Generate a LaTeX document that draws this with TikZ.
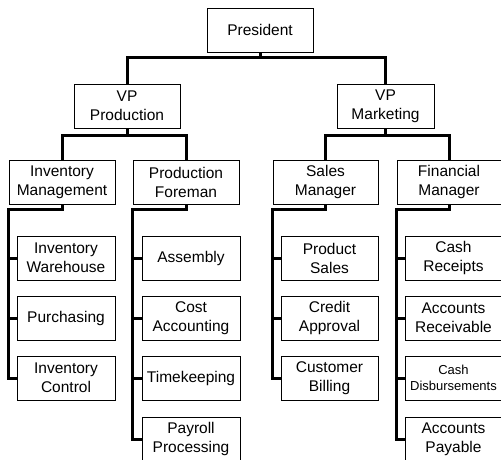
\documentclass[tikz,border=0pt]{standalone}
\usepackage{fontspec}
\setmainfont{Liberation Sans}
\tikzset{
    unit/.style={draw, line width=0.8pt, minimum height=44pt, inner sep=1pt, align=center, font=\fontsize{15.5}{19}\selectfont},
    link/.style={line width=3pt},
}
\begin{document}
\begin{tikzpicture}[x=1pt, y=-1pt]
        \useasboundingbox (0,0) rectangle (501,460);
        \node[unit, minimum width=106pt] (pres) at (260,30) {President};
        \node[unit, minimum width=106pt] (vpp) at (127,106) {VP\\Production};
        \node[unit, minimum width=97pt] (vpm) at (385.5,106) {VP\\Marketing};
        \node[unit, minimum width=106pt] (invm) at (62,182) {Inventory\\Management};
        \node[unit, minimum width=106pt] (pfor) at (186,182) {Production\\Foreman};
        \node[unit, minimum width=105pt] (salm) at (325.5,182) {Sales\\Manager};
        \node[unit, minimum width=104pt] (finm) at (449,182) {Financial\\Manager};
        \node[unit, minimum width=98pt] (invw) at (66,258) {Inventory\\Warehouse};
        \node[unit, minimum width=98pt] (purc) at (66,318) {Purchasing};
        \node[unit, minimum width=98pt] (invc) at (66,378) {Inventory\\Control};
        \node[unit, minimum width=98pt] (asmb) at (191,258) {Assembly};
        \node[unit, minimum width=98pt] (cost) at (191,318) {Cost\\Accounting};
        \node[unit, minimum width=98pt] (time) at (191,378) {Timekeeping};
        \node[unit, minimum width=98pt] (payr) at (191,439) {Payroll\\Processing};
        \node[unit, minimum width=97pt] (prod) at (329.5,258) {Product\\Sales};
        \node[unit, minimum width=97pt] (cred) at (329.5,318) {Credit\\Approval};
        \node[unit, minimum width=97pt] (cust) at (329.5,378) {Customer\\Billing};
        \node[unit, minimum width=97pt] (rcpt) at (453.5,258) {Cash\\Receipts};
        \node[unit, minimum width=97pt] (arec) at (453.5,318) {Accounts\\Receivable};
        \node[unit, minimum width=97pt, font=\fontsize{13}{16}\selectfont] (disb) at (453.5,378) {Cash\\Disbursements};
        \node[unit, minimum width=97pt] (apay) at (453.5,439) {Accounts\\Payable};

        \draw[link] (pres.south) -- ++(0,5) coordinate (jtop);
        \draw[link] (vpp.north) |- (jtop) -| (vpm.north);
        \draw[link] (vpp.south) -- ++(0,7) coordinate (jprod);
        \draw[link] (invm.north) |- (jprod) -| (pfor.north);
        \draw[link] (vpm.south) -- ++(0,7) coordinate (jmark);
        \draw[link] (salm.north) |- (jmark) -| (finm.north);

        \draw[link] (invm.south) -- ++(0,5) -| (invm.west |- invc.west) -- (invc.west);
        \draw[link] (pfor.south) -- ++(0,5) -| (pfor.west |- payr.west) -- (payr.west);
        \draw[link] (salm.south) -- ++(0,5) -| (salm.west |- cust.west) -- (cust.west);
        \draw[link] (finm.south) -- ++(0,5) -| (finm.west |- apay.west) -- (apay.west);
        \foreach \boss/\sub in {invm/invw, invm/purc, pfor/asmb, pfor/cost, pfor/time, salm/prod, salm/cred, finm/rcpt, finm/arec, finm/disb}
            \draw[link] (\boss.west |- \sub.west) -- (\sub.west);
    \end{tikzpicture}
\end{document}
